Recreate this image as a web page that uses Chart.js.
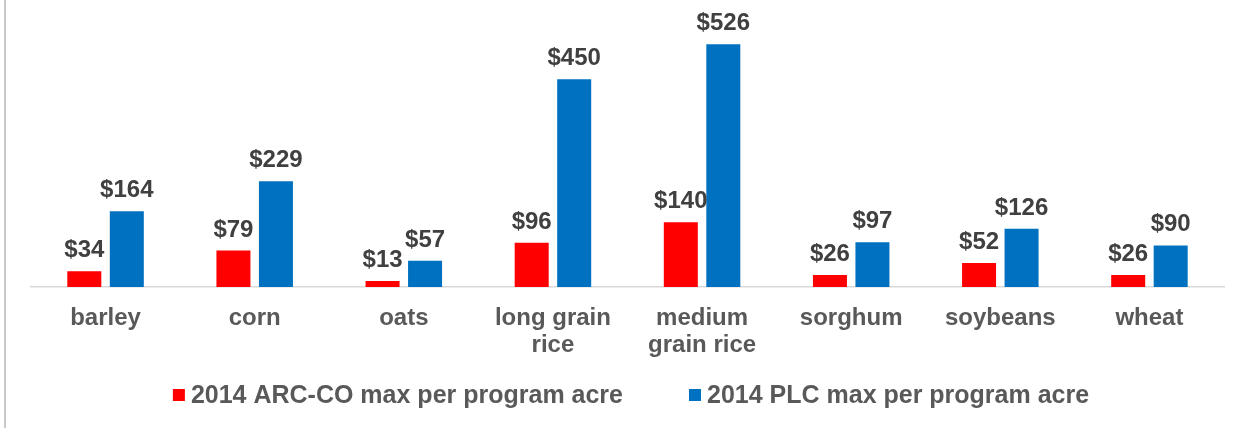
<!DOCTYPE html>
<html>
<head>
<meta charset="utf-8">
<script src="https://cdn.jsdelivr.net/npm/chart.js@4/dist/chart.umd.min.js"></script>
<style>
  html, body { margin: 0; padding: 0; background: #fff; }
  #wrap { position: relative; width: 1247px; height: 428px; }
</style>
</head>
<body>
<div id="wrap"><canvas id="chart1" width="1247" height="428"></canvas></div>
<script>
// crops and the two 2014 program payments per acre
const crops = ['barley', 'corn', 'oats', ['long grain', 'rice'], ['medium', 'grain rice'],
               'sorghum', 'soybeans', 'wheat'];
const arcValues = [34, 79, 13, 96, 140, 26, 52, 26];
const plcValues = [164, 229, 57, 450, 526, 97, 126, 90];
const seriesNames = ['2014 ARC-CO max per program acre', '2014 PLC max per program acre'];
const seriesColors = ['#ff0000', '#0070c0'];

const FONT = '"Liberation Sans", Arial, sans-serif';

// dollar labels over each bar
const valueLabels = {
    id: 'valueLabels',
    afterDatasetsDraw(chart) {
        const ctx = chart.ctx;
        ctx.save();
        ctx.font = 'bold 24px ' + FONT;
        ctx.fillStyle = '#404040';
        ctx.textAlign = 'center';
        ctx.textBaseline = 'alphabetic';
        chart.data.datasets.forEach((ds, i) => {
            chart.getDatasetMeta(i).data.forEach((bar, j) => {
                ctx.fillText('$' + ds.data[j], bar.x, bar.y - 14);
            });
        });
        ctx.restore();
    }
};

// legend drawn by hand so the box/text gap matches
const bottomLegend = {
    id: 'bottomLegend',
    afterDraw(chart) {
        const ctx = chart.ctx;
        ctx.save();
        ctx.font = 'bold 25px ' + FONT;
        const box = 12, gap = 6, spacing = 66;
        const widths = chart.data.datasets.map(ds => box + gap + ctx.measureText(ds.label).width);
        const total = widths.reduce((a, b) => a + b, 0) + spacing * (widths.length - 1);
        let x = 631 - total / 2;
        const y = 395;
        chart.data.datasets.forEach((ds, i) => {
            ctx.fillStyle = ds.backgroundColor;
            ctx.fillRect(x, y - 6, box, box);
            ctx.fillStyle = '#595959';
            ctx.textBaseline = 'middle';
            ctx.textAlign = 'left';
            ctx.fillText(ds.label, x + box + gap, y + 1);
            x += widths[i] + spacing;
        });
        // frame line on the left edge
        ctx.fillStyle = '#c8c8c8';
        ctx.fillRect(4, 0, 2, chart.height);
        ctx.restore();
    }
};

document.addEventListener('DOMContentLoaded', function() {
    const ctx1 = document.getElementById('chart1').getContext('2d');
    new Chart(ctx1, {
        type: 'bar',
        data: {
            labels: crops,
            datasets: [{
                label: seriesNames[0],
                data: arcValues,
                backgroundColor: seriesColors[0],
                categoryPercentage: 0.57,
                barPercentage: 0.8
            }, {
                label: seriesNames[1],
                data: plcValues,
                backgroundColor: seriesColors[1],
                categoryPercentage: 0.57,
                barPercentage: 0.8
            }]
        },
        options: {
            responsive: false,
            animation: false,
            layout: {
                padding: { left: 31, right: 23, top: 10, bottom: 51 }
            },
            plugins: {
                legend: { display: false },
                tooltip: { enabled: false }
            },
            scales: {
                y: {
                    display: false,
                    min: 0,
                    max: 600
                },
                x: {
                    grid: { display: false, drawTicks: false },
                    border: { display: true, color: '#d9d9d9', width: 1.5 },
                    ticks: {
                        color: '#595959',
                        padding: 18,
                        maxRotation: 0,
                        autoSkip: false,
                        font: { family: FONT, size: 24, weight: 'bold', lineHeight: 1.125 }
                    }
                }
            }
        },
        plugins: [valueLabels, bottomLegend]
    });
});
</script>
</body>
</html>
